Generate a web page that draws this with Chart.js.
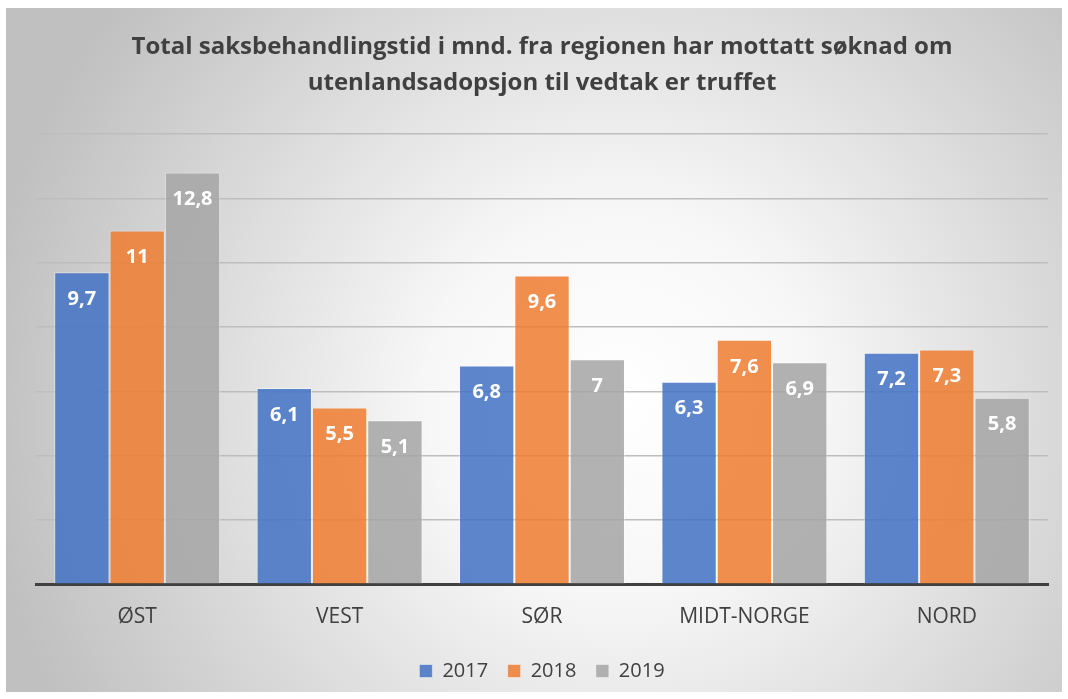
<!DOCTYPE html>
<html>
<head>
<meta charset="utf-8">
<script src="https://cdn.jsdelivr.net/npm/chart.js@4.4.1/dist/chart.umd.min.js"></script>
<style>
  html, body { margin: 0; padding: 0; background: #fff; }
  #wrap { width: 1068px; height: 699px; }
</style>
</head>
<body>
<div id="wrap"><canvas id="c" width="1068" height="699"></canvas></div>
<script>
// Regioner og år
const REGIONS = ['ØST', 'VEST', 'SØR', 'MIDT-NORGE', 'NORD'];
const YEARS = ['2017', '2018', '2019'];
const V2017 = [9.7, 6.1, 6.8, 6.3, 7.2];
const V2018 = [11, 5.5, 9.6, 7.6, 7.3];
const V2019 = [12.8, 5.1, 7, 6.9, 5.8];
const TITLE = [
  'Total saksbehandlingstid i mnd. fra regionen har mottatt søknad om',
  'utenlandsadopsjon til vedtak er truffet'
];

const FILL = ['rgba(68,114,196,0.86)', 'rgba(237,125,49,0.86)', 'rgba(165,165,165,0.86)'];
const TEXT = '#404040';
const FONT = '"Open Sans", "Liberation Sans", sans-serif';

// bakgrunn med radiell gradient
const bgPlugin = {
  id: 'bg',
  beforeDraw(chart) {
    const { ctx } = chart;
    ctx.save();
    ctx.fillStyle = '#fff';
    ctx.fillRect(0, 0, chart.width, chart.height);
    const g = ctx.createRadialGradient(620, 400, 0, 620, 400, 640);
    g.addColorStop(0, '#ffffff');
    g.addColorStop(0.3, '#f7f7f7');
    g.addColorStop(1, '#c0c0c0');
    ctx.fillStyle = g;
    ctx.fillRect(6, 8, 1056, 684);
    ctx.restore();
  }
};

// verdietiketter inne i toppen av søylene
const labelPlugin = {
  id: 'vals',
  afterDatasetsDraw(chart) {
    const { ctx } = chart;
    ctx.save();
    ctx.fillStyle = '#ffffff';
    ctx.font = 'bold 20px ' + FONT;
    ctx.textAlign = 'center';
    ctx.textBaseline = 'middle';
    chart.data.datasets.forEach((ds, i) => {
      chart.getDatasetMeta(i).data.forEach((el, j) => {
        const txt = String(ds.data[j]).replace('.', ',');
        ctx.fillText(txt, el.x, el.y + 27);
      });
    });
    ctx.restore();
  }
};

new Chart(document.getElementById('c'), {
  type: 'bar',
  data: {
    labels: REGIONS,
    datasets: [
      { label: YEARS[0], data: V2017, backgroundColor: FILL[0] },
      { label: YEARS[1], data: V2018, backgroundColor: FILL[1] },
      { label: YEARS[2], data: V2019, backgroundColor: FILL[2] },
    ].map(d => ({ ...d, borderColor: 'rgba(255,255,255,0.45)', borderWidth: 1,
                  categoryPercentage: 0.82, barPercentage: 1.0 })),
  },
  options: {
    responsive: false,
    animation: false,
    layout: { padding: { left: 36, right: 20, top: 20, bottom: 8 } },
    plugins: {
      title: {
        display: true,
        text: TITLE,
        color: TEXT,
        font: { family: FONT, size: 24, weight: 'bold', lineHeight: 1.5 },
        padding: { top: 9, bottom: 33 },
      },
      legend: {
        display: true,
        position: 'bottom',
        labels: {
          color: TEXT,
          font: { family: FONT, size: 20 },
          boxWidth: 13,
          boxHeight: 13,
          padding: 19.5,
        },
      },
      tooltip: { enabled: false },
    },
    scales: {
      x: {
        grid: { display: false },
        border: { display: true, color: '#404040', width: 3 },
        ticks: { color: TEXT, font: { family: FONT, size: 21 }, padding: 12 },
      },
      y: {
        min: 0,
        max: 14,
        ticks: { display: false, stepSize: 2 },
        border: { display: false },
        grid: { color: '#bdbdbd', lineWidth: 1.5, drawTicks: false },
      },
    },
  },
  plugins: [bgPlugin, labelPlugin],
});
</script>
</body>
</html>
